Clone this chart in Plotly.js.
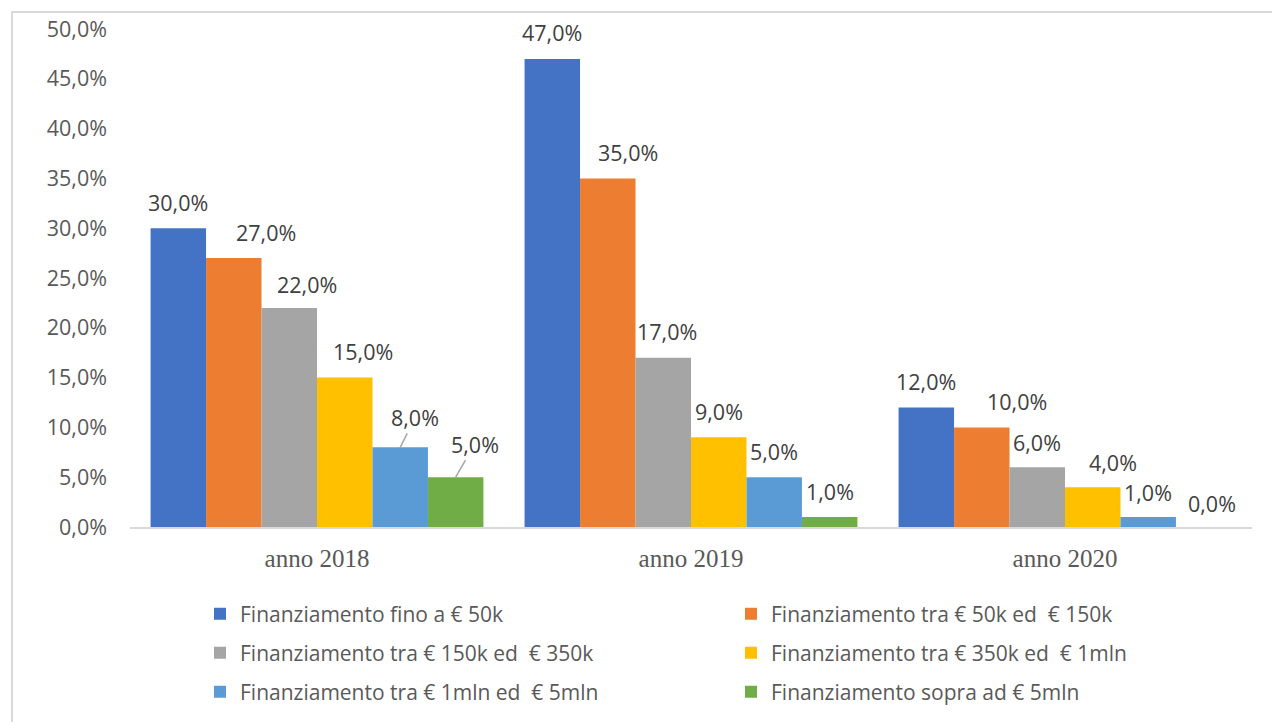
<!DOCTYPE html>
<html>
<head>
<meta charset="utf-8">
<script src="https://cdn.plot.ly/plotly-3.0.1.min.js"></script>
<style>
  html, body { margin: 0; padding: 0; background: #fff; }
  #wrap { position: relative; width: 1272px; height: 722px; overflow: hidden; }
  #chart { position: absolute; left: 0; top: 0; width: 1272px; height: 722px; }
  #frame { position: absolute; left: 11px; top: 11px; width: 1300px; height: 800px;
           border: 2px solid #d9d9d9; box-sizing: border-box; pointer-events: none; }
</style>
</head>
<body>
<div id="wrap">
  <div id="chart"></div>
  <div id="frame"></div>
</div>
<script>
const categories = ["anno 2018", "anno 2019", "anno 2020"];
const seriesNames = [
  "Finanziamento fino a € 50k",
  "Finanziamento tra € 50k ed  € 150k",
  "Finanziamento tra € 150k ed  € 350k",
  "Finanziamento tra € 350k ed  € 1mln",
  "Finanziamento tra € 1mln ed  € 5mln",
  "Finanziamento sopra ad € 5mln"
];
const fino50k = [30, 47, 12];
const tra50k150k = [27, 35, 10];
const tra150k350k = [22, 17, 6];
const tra350k1mln = [15, 9, 4];
const tra1mln5mln = [8, 5, 1];
const sopra5mln = [5, 1, 0];
const yTicks = [0, 5, 10, 15, 20, 25, 30, 35, 40, 45, 50];

const seriesValues = [fino50k, tra50k150k, tra150k350k, tra350k1mln, tra1mln5mln, sopra5mln];
const colors = ["#4472C4", "#ED7D31", "#A5A5A5", "#FFC000", "#5B9BD5", "#70AD47"];
const legendIds = ['legend', 'legend', 'legend2', 'legend2', 'legend3', 'legend3'];

// label placement styling (pixel shifts per series, per category), as in the original
const labelXShift = [
  [0, 0, 0],
  [32, 20, 35],
  [18, 4, 0],
  [18, 0, 20],
  [0, 0, 0],
  [0, 0, 8]
];
const labelYShift = [
  [26, 26, 26],
  [26, 26, 26],
  [23, 26, 25],
  [26, 26, 25],
  [26, 26, 25],
  [26, 26, 24]
];
// leader-line labels [ax, ay]
const leader = { "4-0": [15, -30], "5-0": [19, -33] };

const bargap = 0.11;
const nSeries = seriesValues.length;
const barW = (1 - bargap) / nSeries;

const fmt = v => v.toFixed(1).replace('.', ',') + '%';
const sans = 'Open Sans, Noto Sans, sans-serif';

const traces = seriesValues.map((vals, i) => ({
  type: 'bar',
  name: seriesNames[i],
  legend: legendIds[i],
  x: categories.map((c, k) => k),
  y: vals,
  marker: { color: colors[i], line: { width: 0 } },
  hoverinfo: 'skip'
}));

const annotations = [];
seriesValues.forEach((vals, i) => {
  vals.forEach((v, k) => {
    const xc = k - (1 - bargap) / 2 + (i + 0.5) * barW;
    const key = i + "-" + k;
    const base = {
      x: xc, y: v, xref: 'x', yref: 'y',
      text: fmt(v),
      font: { family: sans, size: 21.5, color: '#404040' }
    };
    if (leader[key]) {
      annotations.push(Object.assign(base, {
        showarrow: true, arrowhead: 0, arrowwidth: 1.5, arrowcolor: '#a6a6a6',
        ax: leader[key][0], ay: leader[key][1], standoff: 0
      }));
    } else {
      annotations.push(Object.assign(base, {
        showarrow: false, yanchor: 'middle',
        xshift: labelXShift[i][k], yshift: labelYShift[i][k]
      }));
    }
  });
});

function legendRow(yPx) {
  return {
    orientation: 'h',
    xref: 'container', yref: 'container',
    x: 200 / 1272, xanchor: 'left',
    y: 1 - yPx / 722, yanchor: 'middle',
    entrywidth: 486, entrywidthmode: 'pixels',
    font: { family: sans, size: 21, color: '#595959' },
    bgcolor: 'rgba(0,0,0,0)',
    traceorder: 'normal',
    itemclick: false, itemdoubleclick: false
  };
}

const layout = {
  width: 1272, height: 722,
  paper_bgcolor: 'rgba(0,0,0,0)', plot_bgcolor: 'rgba(0,0,0,0)',
  separators: ',.',
  margin: { l: 130, r: 20, t: 29, b: 195, autoexpand: false },
  barmode: 'group',
  bargap: bargap,
  bargroupgap: 0,
  showlegend: true,
  xaxis: {
    type: 'linear',
    range: [-0.5, 2.5],
    tickmode: 'array', tickvals: [0, 1, 2], ticktext: categories,
    showgrid: false, zeroline: false,
    showline: true, linecolor: '#d9d9d9', linewidth: 2,
    ticks: '', ticklabelstandoff: 8,
    tickfont: { family: 'Liberation Serif, serif', size: 25, color: '#595959' }
  },
  yaxis: {
    range: [0, 50],
    tickmode: 'array', tickvals: yTicks, ticktext: yTicks.map(fmt),
    showgrid: false, zeroline: false, showline: false,
    ticks: '', ticklabelstandoff: 22,
    tickfont: { family: sans, size: 21.5, color: '#595959' }
  },
  legend: legendRow(614),
  legend2: legendRow(653),
  legend3: legendRow(692),
  annotations: annotations
};

Plotly.newPlot('chart', traces, layout, { displayModeBar: false, staticPlot: true });
</script>
</body>
</html>
